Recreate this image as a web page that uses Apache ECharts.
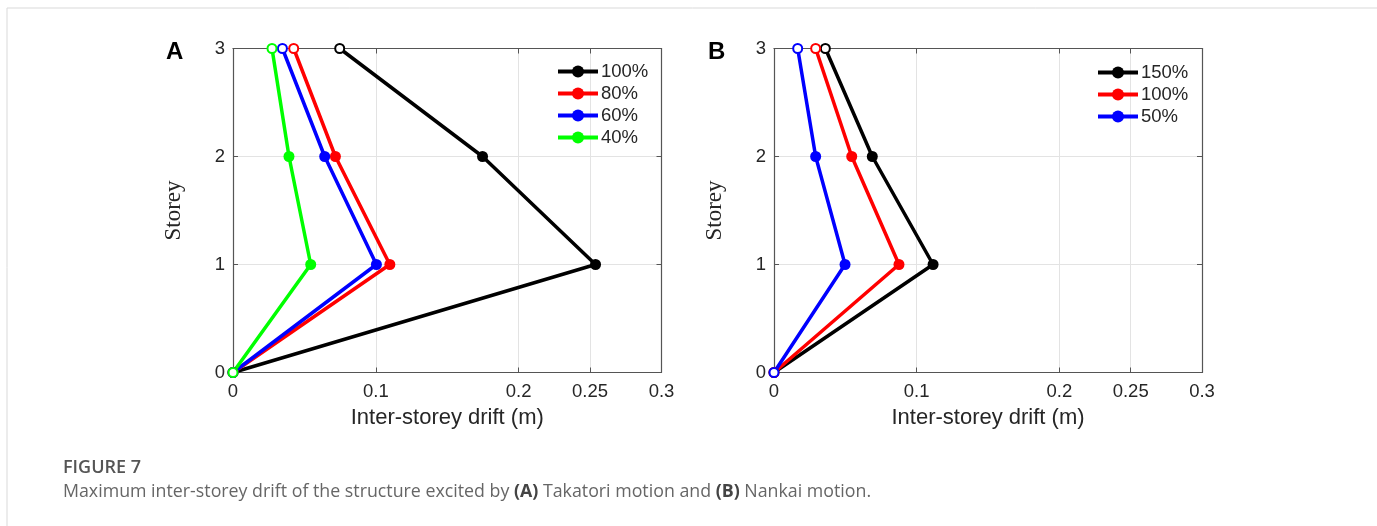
<!DOCTYPE html>
<html><head><meta charset="utf-8">
<script src="https://cdn.jsdelivr.net/npm/echarts@6/dist/echarts.min.js"></script>
<style>html,body{margin:0;padding:0;background:#fff}#c{width:1377px;height:526px}</style>
</head><body><div id="c"></div>
<script>
// Storey levels (y values)
const storeys = [0, 1, 2, 3];
// Panel A (Takatori) drift values per storey 0..3
const namesA = ['100%', '80%', '60%', '40%'];
const driftA100 = [0, 0.2538, 0.1747, 0.0747];
const driftA80  = [0, 0.1098, 0.0717, 0.0425];
const driftA60  = [0, 0.1004, 0.0642, 0.0346];
const driftA40  = [0, 0.0544, 0.0392, 0.0273];
// Panel B (Nankai)
const namesB = ['150%', '100%', '50%'];
const driftB150 = [0, 0.1115, 0.0689, 0.0360];
const driftB100 = [0, 0.0876, 0.0545, 0.0292];
const driftB50  = [0, 0.0498, 0.0292, 0.0166];
// Tick labels
const xTicks = [0, 0.1, 0.2, 0.25, 0.3];
const yTicks = [0, 1, 2, 3];

const colorsA = ['#000000', '#ff0000', '#0000ff', '#00ff00'];
const colorsB = ['#000000', '#ff0000', '#0000ff'];
const axisColor = '#555555';
const labelColor = '#262626';

function mkSeries(name, drift, color, gi) {
  return {
    type: 'line', name: name, xAxisIndex: gi * 2, yAxisIndex: gi * 2,
    data: drift.map((v, i) => {
      const p = { value: [v, storeys[i]] };
      if (i === 0 || i === drift.length - 1) {
        p.symbol = 'emptyCircle'; p.symbolSize = 9;
        p.itemStyle = { borderWidth: 3.5, borderColor: color, color: color };
      }
      return p;
    }),
    symbol: 'circle', symbolSize: 11, showSymbol: true, clip: false,
    lineStyle: { color: color, width: 3.5 },
    itemStyle: { color: color },
    z: 5, animation: false
  };
}

function xAxes(gi) {
  return [{
    type: 'value', gridIndex: gi, min: 0, max: 0.3, position: 'bottom',
    name: 'Inter-storey drift (m)', nameLocation: 'middle', nameGap: 34,
    nameTextStyle: { fontFamily: 'Liberation Sans', fontSize: 22, color: labelColor },
    axisLine: { show: true, onZero: false, lineStyle: { color: axisColor, width: 1.2 } },
    axisTick: { show: true, inside: true, length: 5, customValues: xTicks, lineStyle: { color: axisColor } },
    axisLabel: { customValues: xTicks, margin: 10, fontFamily: 'Liberation Sans', fontSize: 18.5, color: labelColor,
      formatter: v => String(+v.toFixed(2)), showMinLabel: true, showMaxLabel: true },
    splitLine: { show: true, lineStyle: { color: '#e3e3e3', width: 1 } }
  }, {
    type: 'value', gridIndex: gi, min: 0, max: 0.3, position: 'top',
    axisLine: { show: true, onZero: false, lineStyle: { color: axisColor, width: 1.2 } },
    axisTick: { show: true, inside: true, length: 5, customValues: xTicks, lineStyle: { color: axisColor } },
    axisLabel: { show: false }, splitLine: { show: false }
  }];
}
function yAxes(gi) {
  return [{
    type: 'value', gridIndex: gi, min: 0, max: 3, interval: 1, position: 'left',
    name: 'Storey', nameLocation: 'middle', nameGap: 48, nameRotate: 90,
    nameTextStyle: { fontFamily: 'Liberation Serif', fontSize: 23, color: labelColor },
    axisLine: { show: true, onZero: false, lineStyle: { color: axisColor, width: 1.2 } },
    axisTick: { show: true, inside: true, length: 5, lineStyle: { color: axisColor } },
    axisLabel: { margin: 8, fontFamily: 'Liberation Sans', fontSize: 18.5, color: labelColor,
      formatter: v => String(yTicks[v]) },
    splitLine: { show: true, lineStyle: { color: '#e3e3e3', width: 1 } }
  }, {
    type: 'value', gridIndex: gi, min: 0, max: 3, interval: 1, position: 'right',
    axisLine: { show: true, onZero: false, lineStyle: { color: axisColor, width: 1.2 } },
    axisTick: { show: true, inside: true, length: 5, lineStyle: { color: axisColor } },
    axisLabel: { show: false }, splitLine: { show: false }
  }];
}

const series = [];
[driftA100, driftA80, driftA60, driftA40].forEach((d, i) => series.push(mkSeries(namesA[i], d, colorsA[i], 0)));
[driftB150, driftB100, driftB50].forEach((d, i) => {
  const s = mkSeries('B' + namesB[i], d, colorsB[i], 1);
  series.push(s);
});

const legendCommon = {
  orient: 'vertical', padding: 0, itemGap: 3, itemWidth: 40, itemHeight: 15,
  lineStyle: { width: 4 },
  textStyle: { fontFamily: 'Liberation Sans', fontSize: 18.5, color: labelColor, padding: [0, 0, 0, -2] },
  selectedMode: false
};

const chart = echarts.init(document.getElementById('c'), null, { renderer: 'canvas' });
chart.setOption({
  animation: false,
  backgroundColor: '#fff',
  grid: [
    { left: 233, top: 48.5, width: 428.5, height: 324, containLabel: false },
    { left: 774, top: 48.5, width: 428, height: 324, containLabel: false }
  ],
  xAxis: [...xAxes(0), ...xAxes(1)],
  yAxis: [...yAxes(0), ...yAxes(1)],
  legend: [
    Object.assign({}, legendCommon, { left: 556, top: 62, data: namesA }),
    Object.assign({}, legendCommon, { left: 1096, top: 63, data: namesB.map(n => 'B' + n),
      formatter: n => n.slice(1) })
  ],
  series: series,
  graphic: [
    { type: 'rect', shape: { x: 7, y: 8, width: 1400, height: 600 }, style: { fill: 'none', stroke: '#d9d9d9', lineWidth: 1 }, silent: true },
    { type: 'text', x: 166, y: 52, style: { text: 'A', font: 'bold 24px "Liberation Sans"', fill: '#000', verticalAlign: 'middle' } },
    { type: 'text', x: 708, y: 52, style: { text: 'B', font: 'bold 24px "Liberation Sans"', fill: '#000', verticalAlign: 'middle' } },
    { type: 'text', x: 63, y: 468, style: { text: 'FIGURE 7', font: '600 18px "Open Sans"', fill: '#555', verticalAlign: 'middle' } },
    { type: 'text', x: 63, y: 492, style: {
        verticalAlign: 'middle',
        rich: { n: { font: '17.8px "Open Sans"', fill: '#666' }, b: { font: 'bold 17.8px "Open Sans"', fill: '#444' } },
        text: '{n|Maximum inter-storey drift of the structure excited by }{b|(A)}{n| Takatori motion and }{b|(B)}{n| Nankai motion.}' } }
  ]
});
</script></body></html>
